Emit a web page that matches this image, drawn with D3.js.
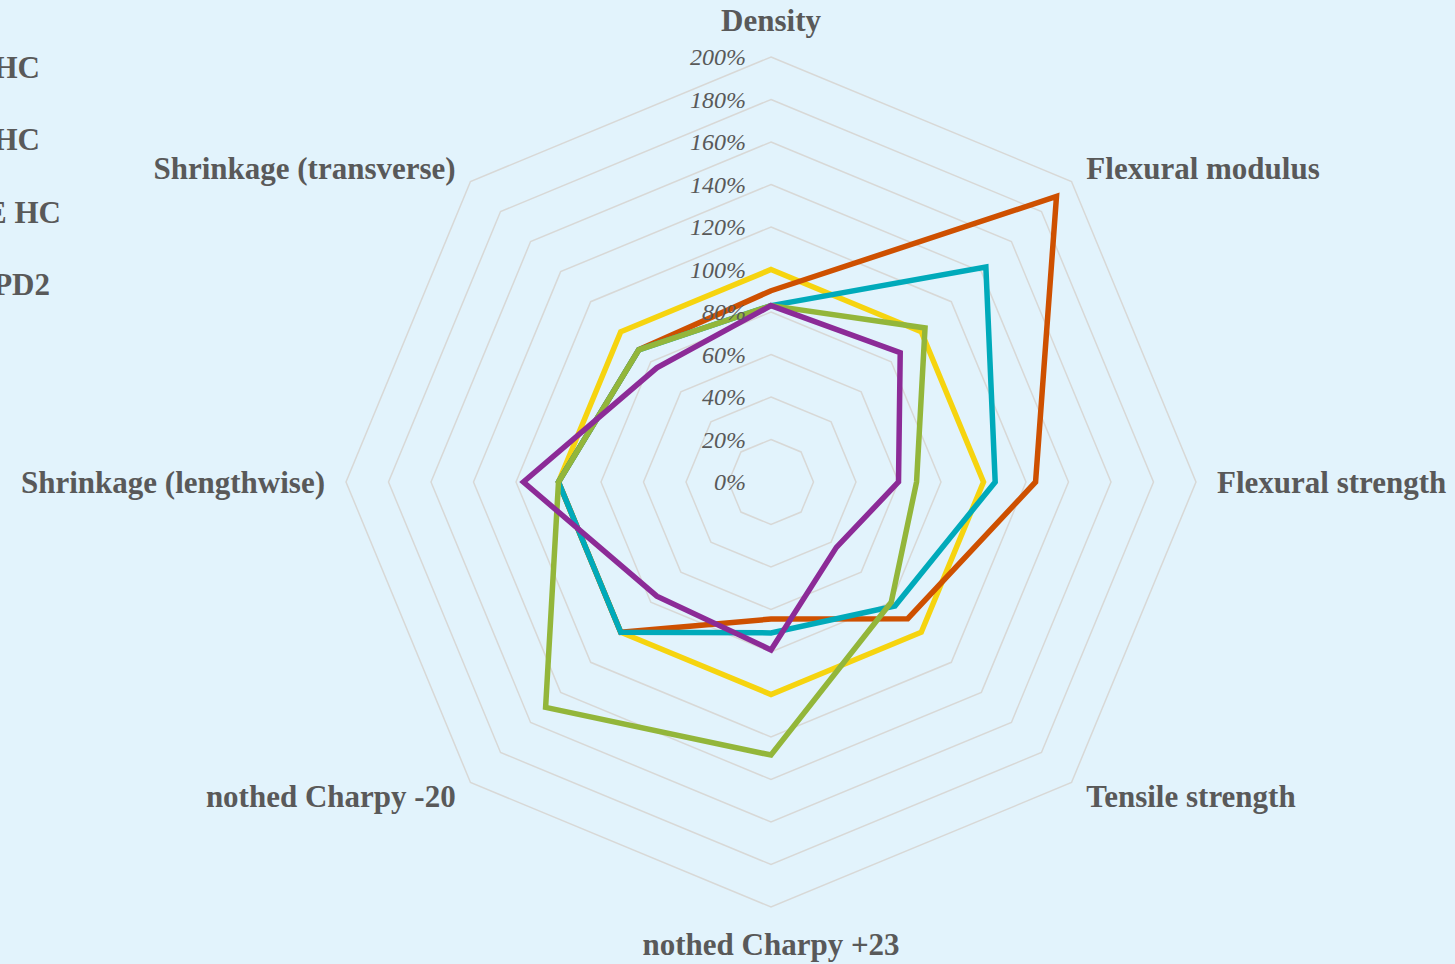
<!DOCTYPE html>
<html>
<head>
<meta charset="utf-8">
<script src="https://cdn.jsdelivr.net/npm/d3@7"></script>
<style>
  html, body { margin: 0; padding: 0; background: #E2F3FC; overflow: hidden; }
  svg { display: block; }
</style>
</head>
<body>
<div id="vis"></div>
<script>
// axes of the radar, clockwise from the top
const axes = ['Density', 'Flexural modulus', 'Flexural strength', 'Tensile strength',
              'nothed Charpy +23', 'nothed Charpy -20', 'Shrinkage (lengthwise)', 'Shrinkage (transverse)']
const tickValues = [0, 20, 40, 60, 80, 100, 120, 140, 160, 180, 200]

// values in %
const seriesYellow = [100, 100, 100, 100, 100, 100, 100, 100]
const seriesOrange = [90, 190, 124.5, 91, 64.5, 100, 100, 88]
const seriesTeal   = [83, 143, 105.5, 82.5, 71, 100, 100, 88]
const seriesGreen  = [83, 102.5, 68.5, 80, 128.5, 150, 100, 88]
const seriesPurple = [83, 86, 60, 43.5, 79, 76, 116.5, 76]

// legend (only the tail of each entry is visible, the rest sits left of the frame)
const legendLabels = ['HC', 'HC', 'E HC', 'PD2']

const allSeries = [seriesYellow, seriesOrange, seriesTeal, seriesGreen, seriesPurple]
const colors = ['#F6D40F', '#CE5000', '#00AABA', '#93B63A', '#8C2B97']

let width = 1455, height = 964
let cx = 771, cy = 482

let svg = d3.select('#vis')
  .append('svg')
  .attr('width', width)
  .attr('height', height)

let g = svg.append('g')
  .attr('transform', `translate(${cx},${cy})`)

let rScale = d3.scaleLinear()
  .domain([0, 200])
  .range([0, 425])

let angle = i => i * 2 * Math.PI / axes.length

let radarLine = d3.lineRadial()
  .angle((d, i) => angle(i))
  .radius(d => rScale(d))
  .curve(d3.curveLinearClosed)

// grid octagons
g.selectAll('.grid')
  .data(tickValues.filter(t => t > 0))
  .join('path')
  .attr('class', 'grid')
  .attr('d', t => radarLine(axes.map(() => t)))
  .attr('fill', 'none')
  .attr('stroke', '#D8D8D6')
  .attr('stroke-width', 1.5)

// series
g.selectAll('.series')
  .data(allSeries)
  .join('path')
  .attr('class', 'series')
  .attr('d', d => radarLine(d))
  .attr('fill', 'none')
  .attr('stroke', (d, i) => colors[i])
  .attr('stroke-width', 5.5)
  .attr('stroke-linejoin', 'miter')

// tick labels
g.selectAll('.tick')
  .data(tickValues)
  .join('text')
  .attr('class', 'tick')
  .attr('x', -25)
  .attr('y', t => -rScale(t))
  .attr('dy', '0.35em')
  .attr('text-anchor', 'end')
  .style('font-family', '"Liberation Serif", serif')
  .style('font-style', 'italic')
  .style('font-size', '24px')
  .attr('fill', '#595959')
  .text(t => t + '%')

// axis labels
g.selectAll('.axisLabel')
  .data(axes)
  .join('text')
  .attr('class', 'axisLabel')
  .attr('x', (d, i) => {
    let s = Math.sin(angle(i))
    return s * rScale(200) + s * 21
  })
  .attr('y', (d, i) => {
    let c = Math.cos(angle(i)), s = Math.sin(angle(i))
    let pad = Math.abs(s) < 0.1 ? 37 : 19
    return -c * rScale(200) - c * pad
  })
  .attr('dy', '0.35em')
  .attr('text-anchor', (d, i) => {
    let s = Math.sin(angle(i))
    return Math.abs(s) < 0.1 ? 'middle' : (s > 0 ? 'start' : 'end')
  })
  .style('font-family', '"Liberation Serif", serif')
  .style('font-weight', 'bold')
  .style('font-size', '31px')
  .attr('fill', '#595959')
  .text(d => d)

// legend
let legendRight = [40, 40, 61, 50]
svg.selectAll('.legend')
  .data(legendLabels)
  .join('text')
  .attr('class', 'legend')
  .attr('x', (d, i) => legendRight[i])
  .attr('y', (d, i) => 67 + i * 72.5)
  .attr('dy', '0.35em')
  .attr('text-anchor', 'end')
  .style('font-family', '"Liberation Serif", serif')
  .style('font-weight', 'bold')
  .style('font-size', '31px')
  .attr('fill', '#595959')
  .text(d => d)
</script>
</body>
</html>
